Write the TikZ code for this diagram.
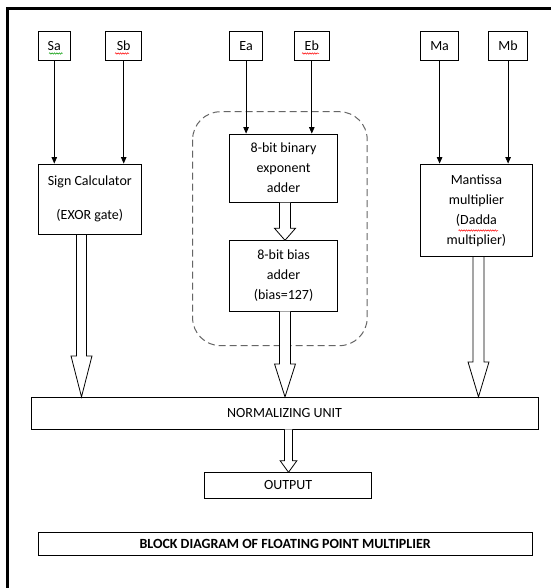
\documentclass[tikz,border=0pt]{standalone}
\usepackage{fontspec}
\setmainfont{Carlito}
\usetikzlibrary{arrows.meta,calc,decorations.pathmorphing}
\tikzset{
  box/.style={draw, line width=0.8pt, inner sep=0pt, align=center, font=\fontsize{14}{20}\selectfont},
  thinarrow/.style={line width=0.8pt, -{Triangle[length=6.5pt,width=5.5pt]}},
  hollow/.style={draw, line width=0.8pt, fill=white, line join=miter},
  squiggle/.style={line width=0.5pt, decorate, decoration={snake, amplitude=0.7pt, segment length=2.4pt}}
}
\newcommand\hollowarrow[5]{%
  \draw[hollow] let \p1=(#1), \p2=(#2) in
    (\x2-#3pt,\y1) -- (\x2-#3pt,\y2+#5pt) -- (\x2-#4pt,\y2+#5pt) -- (\x2,\y2)
    -- (\x2+#4pt,\y2+#5pt) -- (\x2+#3pt,\y2+#5pt) -- (\x2+#3pt,\y1);}
\begin{document}
\begin{tikzpicture}[x=1pt,y=-1pt]
\useasboundingbox (0,0) rectangle (551,588);
\fill[white] (0,0) rectangle (551,588);
% frame
\draw[line width=2.6pt] (7.5,588) -- (7.5,8.5) -- (551,8.5);
% dashed group
\draw[dashed, dash pattern=on 7pt off 4pt, line width=1pt, draw=black!60, rounded corners=28pt]
  (192.6,111.7) rectangle (367.2,345.7);
% input boxes
\node[box, minimum width=32.6pt, minimum height=28.3pt] (Sa) at (54.3,45.9) {Sa};
\node[box, minimum width=35.8pt, minimum height=28.3pt] (Sb) at (123.7,45.9) {Sb};
\node[box, minimum width=33.4pt, minimum height=28.3pt] (Ea) at (246.1,45.9) {Ea};
\node[box, minimum width=34.8pt, minimum height=28.3pt] (Eb) at (311.8,45.9) {Eb};
\node[box, minimum width=37.9pt, minimum height=28.3pt] (Ma) at (439.6,45.9) {Ma};
\node[box, minimum width=39.4pt, minimum height=28.3pt] (Mb) at (508.1,45.9) {Mb};
% processing boxes
\node[box, minimum width=103.6pt, minimum height=70.7pt] (sign) at (89.8,199.3) {Sign Calculator\\[14pt](EXOR gate)};
\node[box, minimum width=108.3pt, minimum height=68.3pt] (exp) at (283.55,168.15) {8-bit binary\\exponent\\adder};
\node[box, minimum width=108.3pt, minimum height=70.3pt] (bias) at (283.55,275.85) {8-bit bias\\adder\\(bias=127)};
\node[box, minimum width=111.7pt, minimum height=92.7pt] (mant) at (476.45,210.35) {Mantissa\\multiplier\\(Dadda\\multiplier)};
\node[box, minimum width=507.4pt, minimum height=31.7pt] (norm) at (284.6,413.15) {NORMALIZING UNIT};
\node[box, minimum width=167.3pt, minimum height=25.6pt] (out) at (288.15,485.5) {OUTPUT};
\node[box, minimum width=494.3pt, minimum height=23pt, font=\fontsize{14}{20}\selectfont\bfseries] (title) at (285.15,544.2) {BLOCK DIAGRAM OF FLOATING POINT MULTIPLIER};
% spell-check squiggles
\draw[squiggle, draw=green!60!black] (49,53.5) -- (62.5,53.5);
\draw[squiggle, draw=red] (115,53.5) -- (129,53.5);
\draw[squiggle, draw=red] (302,53.5) -- (319,53.5);
\draw[squiggle, draw=red] (458.5,230.5) -- (498,230.5);
% thin arrows
\draw[thinarrow] (Sa) -- (Sa |- sign.north);
\draw[thinarrow] (Sb) -- (Sb |- sign.north);
\draw[thinarrow] (Ea) -- (Ea |- exp.north);
\draw[thinarrow] (Eb) -- (Eb |- exp.north);
\draw[thinarrow] (Ma) -- (Ma |- mant.north);
\draw[thinarrow] (Mb) -- (Mb |- mant.north);
% hollow arrows
\coordinate (xs) at (81.5,0);
\coordinate (xe) at (285,0);
\coordinate (xm) at (478.5,0);
\coordinate (xo) at (288.5,0);
\hollowarrow{sign.south}{norm.north -| xs}{5}{10.5}{41}
\hollowarrow{exp.south}{bias.north -| xe}{5.5}{10.5}{12}
\hollowarrow{bias.south}{norm.north -| xe}{5.5}{10.5}{33}
\hollowarrow{mant.south}{norm.north -| xm}{5.5}{10.5}{35}
\hollowarrow{norm.south}{out.north -| xo}{4}{8.3}{11.5}
\end{tikzpicture}
\end{document}
